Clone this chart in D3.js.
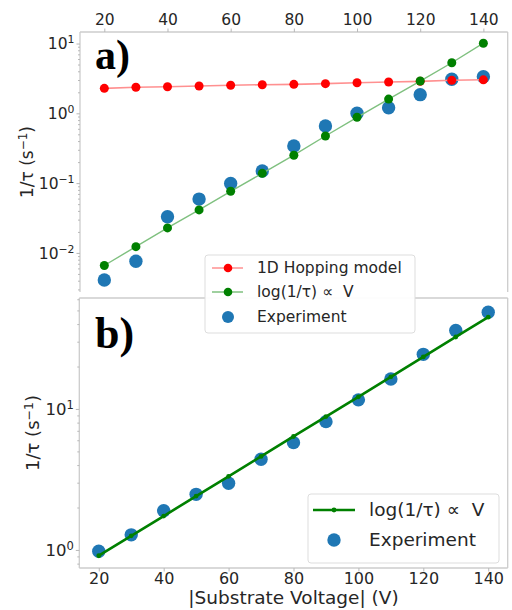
<!DOCTYPE html>
<html>
<head>
<meta charset="utf-8">
<script src="https://cdn.jsdelivr.net/npm/d3@7"></script>
<style>
  html, body { margin: 0; padding: 0; background: #fff; }
  svg { display: block; font-family: "DejaVu Sans", sans-serif; }
</style>
</head>
<body>
<svg id="chart" width="512" height="610"></svg>
<script>
// Substrate voltage magnitudes (V)
const volts = [20, 30, 40, 50, 60, 70, 80, 90, 100, 110, 120, 130, 140];

// Panel a: rates 1/tau (s^-1)
const hoppingA = [2.28, 2.36, 2.40, 2.46, 2.52, 2.57, 2.60, 2.66, 2.74, 2.81, 2.87, 2.97, 3.02];
const fitA     = [0.0066, 0.0123, 0.0228, 0.0413, 0.0764, 0.138, 0.251, 0.473, 0.877, 1.60, 2.90, 5.3, 10.1];
const expA     = [0.0041, 0.0076, 0.033, 0.059, 0.099, 0.149, 0.34, 0.66, 1.0, 1.2, 1.85, 3.07, 3.34];

// Panel b: rates 1/tau (s^-1)
const fitB = [0.91, 1.26, 1.74, 2.41, 3.33, 4.61, 6.38, 8.83, 12.2, 16.9, 23.4, 32.4, 44.8];
const expB = [0.98, 1.28, 1.90, 2.48, 2.97, 4.40, 5.77, 8.13, 11.6, 16.3, 24.4, 36.0, 48.6];

// Tick labels
const xTicks = [20, 40, 60, 80, 100, 120, 140];
const yExpA = [-2, -1, 0, 1];
const yExpB = [0, 1];

const labels = {
  hopping: "1D Hopping model",
  fit: "log(1/τ) ∝\u00a0\u00a0V",
  exp: "Experiment",
  xTitle: "|Substrate Voltage| (V)"
};

const C = { blue: "#1f77b4", red: "#ff0000", green: "#008000",
            redLine: "#ff9090", greenLine: "#7fc07f",
            spine: "#cccccc", tick: "#b8b8b8", text: "#262626" };

const svg = d3.select("#chart");

// Scales
const xA = d3.scaleLinear().domain([12.3, 147.7]).range([80, 507.7]);
const yA = d3.scaleLog().domain([Math.pow(10, -2.56), Math.pow(10, 1.165)]).range([292, 32]);
const xB = d3.scaleLinear().domain([14, 146]).range([79.3, 507.7]);
const yB = d3.scaleLog().domain([Math.pow(10, -0.128), Math.pow(10, 1.787)]).range([568, 298]);

function minorTicks(scale) {
  const [lo, hi] = scale.domain();
  const out = [];
  for (let k = Math.floor(Math.log10(lo)); k <= Math.ceil(Math.log10(hi)); k++) {
    for (let m = 2; m <= 9; m++) {
      const v = m * Math.pow(10, k);
      if (v >= lo && v <= hi) out.push(v);
    }
  }
  return out;
}

function styleAxis(g) {
  g.select(".domain").remove();
  g.selectAll(".tick line").attr("stroke", C.tick).attr("stroke-width", 1);
  g.selectAll(".tick text").attr("fill", C.text).attr("font-size", "15.5px")
    .attr("font-family", "DejaVu Sans");
}

function logAxis(xPos, scale, exps, fs) {
  // minor ticks
  svg.append("g").attr("transform", `translate(${xPos},0)`)
    .call(d3.axisLeft(scale).tickValues(minorTicks(scale)).tickSize(2).tickFormat(() => ""))
    .call(styleAxis);
  // major ticks with power-of-ten labels
  const g = svg.append("g").attr("transform", `translate(${xPos},0)`)
    .call(d3.axisLeft(scale).tickValues(exps.map(e => Math.pow(10, e))).tickSize(3.5).tickFormat(() => ""))
    .call(styleAxis);
  g.selectAll(".tick").each(function (d) {
    const e = Math.round(Math.log10(d));
    const t = d3.select(this).select("text")
      .attr("x", -5.5).attr("dy", "0.35em").attr("text-anchor", "end")
      .attr("font-size", fs + "px");
    t.append("tspan").text("10");
    t.append("tspan").attr("font-size", (fs * 0.7) + "px").attr("dy", "-0.55em")
      .text(e < 0 ? "\u2212" + (-e) : String(e));
  });
}

function frame(x0, x1, y0, y1, sides) {
  const seg = {
    top: [x0, y0, x1, y0], bottom: [x0, y1, x1, y1],
    left: [x0, y0, x0, y1], right: [x1, y0, x1, y1]
  };
  sides.forEach(s => {
    const [a, b, c, d] = seg[s];
    svg.append("line").attr("x1", a).attr("y1", b).attr("x2", c).attr("y2", d)
      .attr("stroke", C.spine).attr("stroke-width", 1.3);
  });
}

// ---------- Panel a ----------
frame(80, 507.7, 32, 292, ["top", "left", "right"]);
svg.append("g").attr("transform", "translate(0,32)")
  .call(d3.axisTop(xA).tickValues(xTicks).tickSize(3.5).tickPadding(4))
  .call(styleAxis);
logAxis(80, yA, yExpA, 15.5);

const gA = svg.append("g");
// experiment
gA.selectAll("circle.exp").data(volts).join("circle")
  .attr("cx", (d) => xA(d)).attr("cy", (d, i) => yA(expA[i])).attr("r", 6.7)
  .attr("fill", C.blue);
// hopping model
const lineA = (vals) => d3.line().x((d) => xA(d)).y((d, i) => yA(vals[i]))(volts);
gA.append("path").attr("d", lineA(hoppingA)).attr("fill", "none")
  .attr("stroke", C.redLine).attr("stroke-width", 1.6);
gA.selectAll("circle.hop").data(volts).join("circle").attr("class", "hop")
  .attr("cx", (d) => xA(d)).attr("cy", (d, i) => yA(hoppingA[i])).attr("r", 4.5)
  .attr("fill", C.red);
// exponential fit
gA.append("path").attr("d", lineA(fitA)).attr("fill", "none")
  .attr("stroke", C.greenLine).attr("stroke-width", 1.4);
gA.selectAll("circle.fit").data(volts).join("circle").attr("class", "fit")
  .attr("cx", (d) => xA(d)).attr("cy", (d, i) => yA(fitA[i])).attr("r", 4.5)
  .attr("fill", C.green);

svg.append("text").attr("x", 95).attr("y", 68.5)
  .attr("font-family", "Liberation Serif").attr("font-weight", "bold")
  .attr("font-size", "42px").attr("fill", "#000").text("a)");

svg.append("text")
  .attr("transform", "translate(33,162) rotate(-90)")
  .attr("text-anchor", "middle").attr("font-size", "17px").attr("fill", C.text)
  .call(t => {
    t.append("tspan").text("1/τ (s");
    t.append("tspan").attr("font-size", "12px").attr("dy", "-0.5em").text("\u22121");
    t.append("tspan").attr("dy", "0.35em").text(")");
  });

// ---------- Panel b ----------
frame(79.3, 507.7, 298, 568, ["top", "bottom", "left", "right"]);
svg.append("g").attr("transform", "translate(0,568)")
  .call(d3.axisBottom(xB).tickValues(xTicks).tickSize(3.5).tickPadding(1.5))
  .call(styleAxis)
  .call(g => g.selectAll(".tick text").attr("font-size", "16px"));
logAxis(79.3, yB, yExpB, 16.5);

const gB = svg.append("g");
gB.selectAll("circle").data(volts).join("circle")
  .attr("cx", (d) => xB(d)).attr("cy", (d, i) => yB(expB[i])).attr("r", 6.7)
  .attr("fill", C.blue);
gB.append("path")
  .attr("d", d3.line().x((d) => xB(d)).y((d, i) => yB(fitB[i]))(volts))
  .attr("fill", "none").attr("stroke", C.green).attr("stroke-width", 2.6);
gB.selectAll("circle.fitb").data(volts).join("circle").attr("class", "fitb")
  .attr("cx", (d) => xB(d)).attr("cy", (d, i) => yB(fitB[i])).attr("r", 2.4)
  .attr("fill", C.green);

svg.append("text").attr("x", 95).attr("y", 347.5)
  .attr("font-family", "Liberation Serif").attr("font-weight", "bold")
  .attr("font-size", "44px").attr("fill", "#000").text("b)");

svg.append("text")
  .attr("transform", "translate(39,433) rotate(-90)")
  .attr("text-anchor", "middle").attr("font-size", "18px").attr("fill", C.text)
  .call(t => {
    t.append("tspan").text("1/τ (s");
    t.append("tspan").attr("font-size", "12.5px").attr("dy", "-0.5em").text("\u22121");
    t.append("tspan").attr("dy", "0.35em").text(")");
  });

svg.append("text").attr("x", 293.5).attr("y", 603.5)
  .attr("text-anchor", "middle").attr("font-size", "18.5px").attr("fill", C.text)
  .text(labels.xTitle);

// ---------- Legend b ----------
const lgB = svg.append("g");
lgB.append("rect").attr("x", 308).attr("y", 494).attr("width", 191).attr("height", 69)
  .attr("rx", 3).attr("fill", "#fff").attr("fill-opacity", 0.9)
  .attr("stroke", "#dddddd").attr("stroke-width", 1);
lgB.append("line").attr("x1", 313).attr("x2", 355).attr("y1", 510).attr("y2", 510)
  .attr("stroke", C.green).attr("stroke-width", 2.6);
lgB.append("circle").attr("cx", 334).attr("cy", 510).attr("r", 2.4).attr("fill", C.green);
lgB.append("circle").attr("cx", 334).attr("cy", 540).attr("r", 6.7).attr("fill", C.blue);
lgB.append("text").attr("x", 369).attr("y", 510).attr("dy", "0.35em")
  .attr("font-size", "18.5px").attr("fill", C.text).text(labels.fit);
lgB.append("text").attr("x", 369).attr("y", 540).attr("dy", "0.35em")
  .attr("font-size", "18.5px").attr("fill", C.text).text(labels.exp);

// ---------- Legend a (sits over the top of panel b) ----------
const lgA = svg.append("g");
lgA.append("rect").attr("x", 205).attr("y", 255).attr("width", 210).attr("height", 78)
  .attr("rx", 3).attr("fill", "#fff").attr("fill-opacity", 0.95)
  .attr("stroke", "#dddddd").attr("stroke-width", 1);
[[labels.hopping, C.redLine, C.red, 268], [labels.fit, C.greenLine, C.green, 292]]
  .forEach(([txt, lc, mc, y]) => {
    lgA.append("line").attr("x1", 212).attr("x2", 243).attr("y1", y).attr("y2", y)
      .attr("stroke", lc).attr("stroke-width", 1.5);
    lgA.append("circle").attr("cx", 228).attr("cy", y).attr("r", 4.3).attr("fill", mc);
    lgA.append("text").attr("x", 257).attr("y", y).attr("dy", "0.35em")
      .attr("font-size", "15.5px").attr("fill", C.text).text(txt);
  });
lgA.append("circle").attr("cx", 228).attr("cy", 317).attr("r", 6).attr("fill", C.blue);
lgA.append("text").attr("x", 257).attr("y", 317).attr("dy", "0.35em")
  .attr("font-size", "15.5px").attr("fill", C.text).text(labels.exp);
</script>
</body>
</html>
